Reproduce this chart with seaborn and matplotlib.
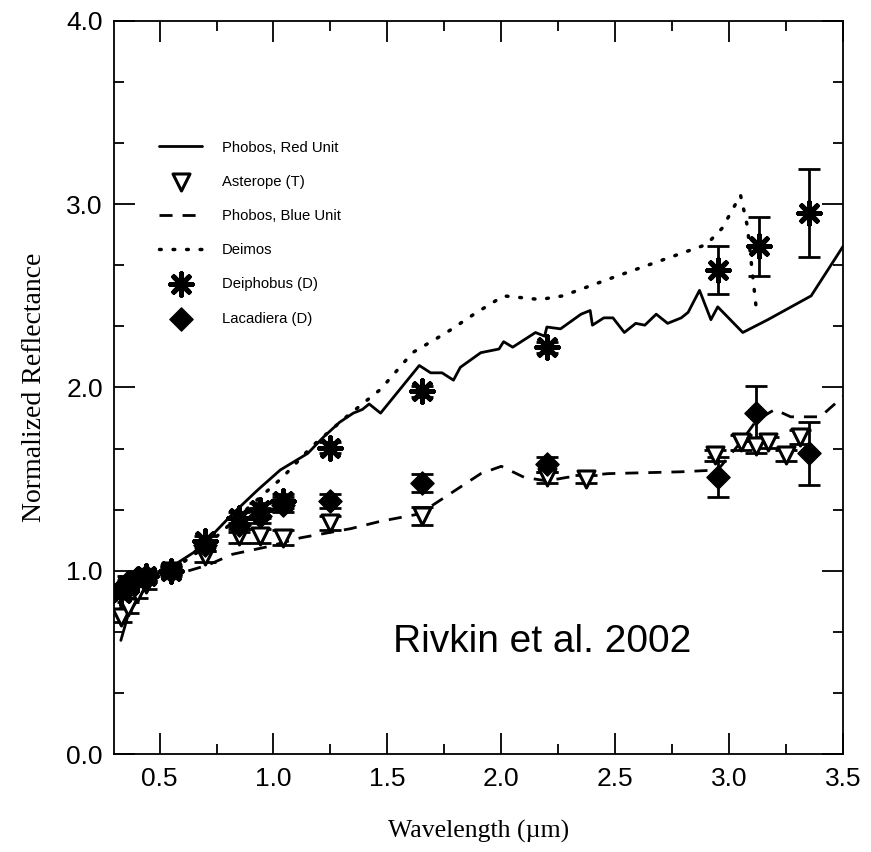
import numpy as np
import pandas as pd
import seaborn as sns
import matplotlib.pyplot as plt
from matplotlib.ticker import MultipleLocator, FormatStrFormatter

# Phobos, Red Unit (solid line)
red_x = [0.33, 0.36, 0.40, 0.45, 0.50, 0.55, 0.65, 0.72, 0.82, 0.93, 1.03, 1.15, 1.22, 1.29,
         1.35, 1.39, 1.42, 1.47, 1.64, 1.69, 1.74, 1.79, 1.82, 1.91, 1.99, 2.01, 2.05, 2.15,
         2.19, 2.20, 2.26, 2.35, 2.39, 2.40, 2.45, 2.49, 2.54, 2.59, 2.63, 2.68, 2.73, 2.79,
         2.82, 2.87, 2.92, 2.95, 3.06, 3.17, 3.36, 3.50]
red_y = [0.62, 0.75, 0.86, 0.95, 0.99, 1.02, 1.10, 1.18, 1.31, 1.44, 1.55, 1.64, 1.73, 1.81,
         1.86, 1.88, 1.91, 1.86, 2.12, 2.08, 2.08, 2.04, 2.11, 2.19, 2.21, 2.25, 2.22, 2.30,
         2.28, 2.33, 2.32, 2.40, 2.42, 2.34, 2.38, 2.38, 2.30, 2.35, 2.34, 2.40, 2.35, 2.38,
         2.41, 2.53, 2.37, 2.44, 2.30, 2.37, 2.50, 2.77]

# Phobos, Blue Unit (dashed line)
blue_x = [0.33, 0.38, 0.44, 0.50, 0.55, 0.60, 0.71, 0.82, 0.97, 1.12, 1.34, 1.47, 1.64,
          1.91, 2.00, 2.05, 2.10, 2.20, 2.29, 2.47, 2.79, 2.95, 3.05, 3.12, 3.20, 3.27,
          3.40, 3.50]
blue_y = [0.70, 0.80, 0.90, 0.96, 0.99, 0.99, 1.03, 1.09, 1.13, 1.18, 1.23, 1.27, 1.31,
          1.53, 1.57, 1.54, 1.51, 1.49, 1.51, 1.53, 1.54, 1.55, 1.70, 1.82, 1.88, 1.84,
          1.84, 1.95]

# Deimos (dotted line)
deimos_x = [0.33, 0.40, 0.45, 0.55, 0.70, 0.85, 1.04, 1.17, 1.32, 1.47, 1.61, 1.76, 1.88,
            2.01, 2.17, 2.27, 2.49, 2.74, 2.90, 2.97, 3.05, 3.08, 3.12]
deimos_y = [0.80, 0.92, 0.96, 1.00, 1.13, 1.30, 1.51, 1.68, 1.84, 1.99, 2.19, 2.30, 2.40,
            2.50, 2.48, 2.50, 2.60, 2.71, 2.78, 2.87, 3.05, 2.88, 2.42]

# Asterope (T)
ast_x = [0.33, 0.36, 0.40, 0.44, 0.55, 0.70, 0.85, 0.94, 1.04, 1.25, 1.65, 2.20, 2.37,
         2.94, 3.05, 3.12, 3.17, 3.25, 3.31]
ast_y = [0.75, 0.80, 0.88, 0.93, 1.00, 1.08, 1.19, 1.19, 1.18, 1.26, 1.30, 1.51, 1.50,
         1.63, 1.70, 1.68, 1.70, 1.63, 1.73]
ast_err = [0.03, 0.03, 0.03, 0.03, 0.03, 0.03, 0.04, 0.04, 0.04, 0.04, 0.05, 0.03, 0.02,
           0.03, 0.04, 0.04, 0.03, 0.03, 0.04]

# Deiphobus (D)
dei_x = [0.33, 0.36, 0.40, 0.44, 0.55, 0.70, 0.85, 0.94, 1.04, 1.25, 1.65, 2.20, 2.95,
         3.13, 3.35]
dei_y = [0.88, 0.92, 0.95, 0.97, 1.00, 1.16, 1.29, 1.33, 1.38, 1.67, 1.98, 2.22, 2.64,
         2.77, 2.95]
dei_err = [0.03, 0.03, 0.03, 0.03, 0.02, 0.03, 0.03, 0.04, 0.04, 0.03, 0.03, 0.03, 0.13,
           0.16, 0.24]

# Lacadiera (D)
lac_x = [0.33, 0.36, 0.40, 0.44, 0.55, 0.70, 0.85, 0.94, 1.04, 1.25, 1.65, 2.20, 2.95,
         3.12, 3.35]
lac_y = [0.90, 0.94, 0.96, 0.97, 1.00, 1.14, 1.25, 1.30, 1.36, 1.38, 1.48, 1.58, 1.51,
         1.86, 1.64]
lac_err = [0.03, 0.03, 0.03, 0.03, 0.02, 0.03, 0.04, 0.04, 0.04, 0.04, 0.05, 0.04, 0.11,
           0.15, 0.17]

sns.set_style('ticks')
plt.rcParams['font.family'] = ['Liberation Sans', 'DejaVu Sans']
plt.rcParams['text.color'] = 'black'
plt.rcParams['axes.labelcolor'] = 'black'
plt.rcParams['xtick.color'] = 'black'
plt.rcParams['ytick.color'] = 'black'

fig = plt.figure(figsize=(8.71, 8.52), dpi=100)
ax = fig.add_axes([0.1309, 0.1150, 0.8370, 0.8604])

lw = 2.0
sns.lineplot(x=red_x, y=red_y, sort=False, estimator=None, color='black', lw=lw,
             ax=ax, label='Phobos, Red Unit')
sns.lineplot(x=blue_x, y=blue_y, sort=False, estimator=None, color='black', lw=lw,
             ax=ax, label='Phobos, Blue Unit')
l_blue = ax.get_lines()[-1]
l_blue.set_dashes([4.7, 3.6])
sns.lineplot(x=deimos_x, y=deimos_y, sort=False, estimator=None, color='black', lw=2.5,
             ax=ax, label='Deimos')
l_dei = ax.get_lines()[-1]
l_dei.set_dashes([0.5, 3.4])
l_dei.set_dash_capstyle('round')

ebkw = dict(fmt='none', ecolor='black', elinewidth=2, capsize=8, capthick=2, zorder=3)
ax.errorbar(ast_x, ast_y, yerr=ast_err, **ebkw)
ax.errorbar(dei_x, dei_y, yerr=dei_err, **ebkw)
ax.errorbar(lac_x, lac_y, yerr=lac_err, **ebkw)

sns.scatterplot(x=ast_x, y=ast_y, marker='v', s=150, facecolor='white', edgecolor='black',
                linewidth=2.2, ax=ax, label='Asterope (T)', zorder=4)
sns.scatterplot(x=dei_x, y=dei_y, marker=(8, 2, 0), s=240, color='black',
                linewidth=3.6, ax=ax, label='Deiphobus (D)', zorder=5)
sns.scatterplot(x=lac_x, y=lac_y, marker='D', s=140, color='black', edgecolor='black',
                ax=ax, label='Lacadiera (D)', zorder=5)

handles, labels = ax.get_legend_handles_labels()
order = ['Phobos, Red Unit', 'Asterope (T)', 'Phobos, Blue Unit', 'Deimos',
         'Deiphobus (D)', 'Lacadiera (D)']
hmap = dict(zip(labels, handles))
ax.legend([hmap[k] for k in order], order, loc='upper left', bbox_to_anchor=(0.054, 0.845),
          frameon=False, fontsize=10.7, handlelength=2.9, labelspacing=1.36,
          handletextpad=1.3, borderaxespad=0)

ax.text(2.18, 0.61, 'Rivkin et al. 2002', fontsize=28, ha='center', va='center')

ax.set_xlim(0.3, 3.5)
ax.set_ylim(0.0, 4.0)
ax.xaxis.set_major_locator(MultipleLocator(0.5))
ax.xaxis.set_minor_locator(MultipleLocator(0.25))
ax.yaxis.set_major_locator(MultipleLocator(1.0))
ax.yaxis.set_minor_locator(MultipleLocator(1.0 / 3))
ax.xaxis.set_major_formatter(FormatStrFormatter('%.1f'))
ax.yaxis.set_major_formatter(FormatStrFormatter('%.1f'))
ax.tick_params(which='both', direction='in', top=True, right=True, width=1.3,
               labelsize=19, color='black', labelcolor='black')
ax.tick_params(axis='x', which='major', length=15, pad=9.5)
ax.tick_params(axis='x', which='minor', length=7)
ax.tick_params(axis='y', which='major', length=15, pad=8)
ax.tick_params(axis='y', which='minor', length=7)
for sp in ax.spines.values():
    sp.set_linewidth(1.3)
    sp.set_color('black')

ax.set_xlabel('Wavelength (\u00b5m)', family='Liberation Serif', fontsize=18.5, labelpad=21)
ax.set_ylabel('Normalized Reflectance', family='Liberation Serif', fontsize=20, labelpad=14)

fig.savefig('out.png', dpi=100)
